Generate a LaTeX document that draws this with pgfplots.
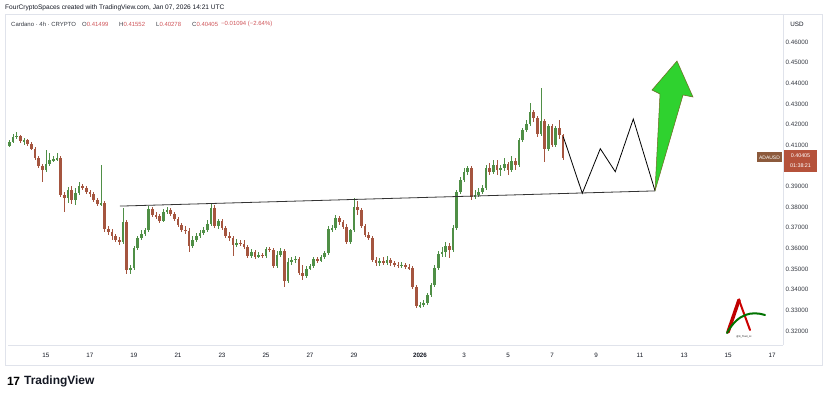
\documentclass[border=0pt]{standalone}
\usepackage{pgfplots}
\pgfplotsset{compat=1.18}
\usepackage{pgfplotstable}
\usepackage{fontspec}
\setmainfont{Liberation Sans}
\definecolor{upc}{HTML}{4F8F46}
\definecolor{dnc}{HTML}{A5553F}
\definecolor{txt}{HTML}{131722}
\definecolor{redv}{HTML}{D0555A}
\definecolor{frame}{HTML}{E0E3EB}
\definecolor{arrowg}{HTML}{2FD22F}
\definecolor{adab}{HTML}{8C5A3C}
\definecolor{pbox}{HTML}{B5523B}

\pgfplotstableread{
i o h l c
0 0.4096 0.4125 0.4091 0.4116
1 0.4116 0.4154 0.4111 0.4140
2 0.4140 0.4164 0.4130 0.4145
3 0.4145 0.4150 0.4111 0.4120
4 0.4120 0.4135 0.4101 0.4125
5 0.4125 0.4130 0.4096 0.4106
6 0.4106 0.4116 0.4077 0.4082
7 0.4082 0.4091 0.4028 0.4038
8 0.4038 0.4048 0.3990 0.3999
9 0.3999 0.4009 0.3922 0.3980
10 0.3980 0.4077 0.3970 0.4009
11 0.4009 0.4062 0.3999 0.4028
12 0.4028 0.4048 0.4019 0.4033
13 0.4033 0.4062 0.4024 0.4038
14 0.4038 0.4048 0.3849 0.3859
15 0.3859 0.3874 0.3777 0.3844
16 0.3844 0.3898 0.3820 0.3883
17 0.3883 0.3903 0.3815 0.3835
18 0.3835 0.3893 0.3811 0.3869
19 0.3869 0.3922 0.3859 0.3903
20 0.3903 0.3912 0.3883 0.3893
21 0.3893 0.3903 0.3864 0.3874
22 0.3874 0.3883 0.3849 0.3864
23 0.3864 0.3874 0.3825 0.3835
24 0.3835 0.3844 0.3806 0.3815
25 0.3815 0.4004 0.3806 0.3820
26 0.3820 0.3830 0.3680 0.3694
27 0.3694 0.3709 0.3665 0.3680
28 0.3680 0.3694 0.3641 0.3660
29 0.3660 0.3670 0.3631 0.3641
30 0.3641 0.3656 0.3617 0.3631
31 0.3631 0.3796 0.3622 0.3728
32 0.3728 0.3738 0.3476 0.3496
33 0.3496 0.3520 0.3476 0.3505
34 0.3505 0.3612 0.3496 0.3602
35 0.3602 0.3660 0.3593 0.3651
36 0.3651 0.3689 0.3641 0.3670
37 0.3670 0.3699 0.3660 0.3689
38 0.3689 0.3806 0.3680 0.3791
39 0.3791 0.3801 0.3752 0.3762
40 0.3762 0.3777 0.3743 0.3757
41 0.3757 0.3767 0.3723 0.3733
42 0.3733 0.3791 0.3728 0.3777
43 0.3777 0.3801 0.3767 0.3786
44 0.3786 0.3796 0.3757 0.3767
45 0.3767 0.3777 0.3733 0.3743
46 0.3743 0.3752 0.3704 0.3714
47 0.3714 0.3723 0.3680 0.3689
48 0.3689 0.3709 0.3670 0.3685
49 0.3685 0.3699 0.3583 0.3612
50 0.3612 0.3660 0.3602 0.3641
51 0.3641 0.3675 0.3631 0.3660
52 0.3660 0.3689 0.3651 0.3675
53 0.3675 0.3704 0.3665 0.3689
54 0.3689 0.3738 0.3680 0.3718
55 0.3718 0.3815 0.3709 0.3796
56 0.3796 0.3811 0.3699 0.3709
57 0.3709 0.3743 0.3694 0.3733
58 0.3733 0.3743 0.3689 0.3699
59 0.3699 0.3709 0.3651 0.3660
60 0.3660 0.3680 0.3636 0.3651
61 0.3651 0.3660 0.3564 0.3617
62 0.3617 0.3646 0.3607 0.3627
63 0.3627 0.3641 0.3612 0.3622
64 0.3622 0.3641 0.3597 0.3607
65 0.3607 0.3617 0.3554 0.3564
66 0.3564 0.3597 0.3554 0.3583
67 0.3583 0.3593 0.3549 0.3559
68 0.3559 0.3583 0.3554 0.3568
69 0.3568 0.3578 0.3554 0.3564
70 0.3564 0.3607 0.3554 0.3597
71 0.3597 0.3607 0.3583 0.3593
72 0.3593 0.3602 0.3505 0.3515
73 0.3515 0.3588 0.3505 0.3568
74 0.3568 0.3602 0.3559 0.3588
75 0.3588 0.3597 0.3413 0.3443
76 0.3443 0.3554 0.3433 0.3535
77 0.3535 0.3559 0.3520 0.3544
78 0.3544 0.3564 0.3530 0.3549
79 0.3549 0.3559 0.3472 0.3481
80 0.3481 0.3520 0.3447 0.3467
81 0.3467 0.3515 0.3457 0.3501
82 0.3501 0.3525 0.3496 0.3515
83 0.3515 0.3559 0.3505 0.3549
84 0.3549 0.3559 0.3530 0.3539
85 0.3539 0.3568 0.3535 0.3559
86 0.3559 0.3588 0.3549 0.3578
87 0.3578 0.3709 0.3568 0.3694
88 0.3694 0.3714 0.3680 0.3699
89 0.3699 0.3762 0.3689 0.3748
90 0.3748 0.3757 0.3714 0.3728
91 0.3728 0.3738 0.3694 0.3704
92 0.3704 0.3718 0.3622 0.3631
93 0.3631 0.3694 0.3622 0.3689
94 0.3689 0.3844 0.3680 0.3801
95 0.3801 0.3830 0.3762 0.3786
96 0.3786 0.3796 0.3699 0.3709
97 0.3709 0.3718 0.3656 0.3665
98 0.3665 0.3680 0.3641 0.3651
99 0.3651 0.3660 0.3535 0.3544
100 0.3544 0.3559 0.3515 0.3530
101 0.3530 0.3554 0.3515 0.3539
102 0.3539 0.3559 0.3520 0.3530
103 0.3530 0.3564 0.3520 0.3544
104 0.3544 0.3554 0.3515 0.3530
105 0.3530 0.3539 0.3510 0.3520
106 0.3520 0.3535 0.3505 0.3515
107 0.3515 0.3535 0.3505 0.3520
108 0.3520 0.3530 0.3501 0.3510
109 0.3510 0.3525 0.3496 0.3505
110 0.3505 0.3515 0.3404 0.3413
111 0.3413 0.3423 0.3312 0.3321
112 0.3321 0.3341 0.3312 0.3326
113 0.3326 0.3350 0.3317 0.3336
114 0.3336 0.3384 0.3326 0.3375
115 0.3375 0.3433 0.3365 0.3423
116 0.3423 0.3520 0.3413 0.3505
117 0.3505 0.3588 0.3496 0.3573
118 0.3573 0.3607 0.3559 0.3583
119 0.3583 0.3631 0.3559 0.3612
120 0.3612 0.3627 0.3554 0.3593
121 0.3593 0.3714 0.3583 0.3699
122 0.3699 0.3883 0.3689 0.3874
123 0.3874 0.3946 0.3864 0.3932
124 0.3932 0.3990 0.3922 0.3970
125 0.3970 0.3999 0.3956 0.3990
126 0.3990 0.3999 0.3835 0.3849
127 0.3849 0.3883 0.3840 0.3859
128 0.3859 0.3893 0.3849 0.3874
129 0.3874 0.3907 0.3864 0.3893
130 0.3893 0.4004 0.3883 0.3990
131 0.3990 0.4014 0.3956 0.3970
132 0.3970 0.4028 0.3961 0.4004
133 0.4004 0.4028 0.3956 0.3980
134 0.3980 0.4004 0.3951 0.3990
135 0.3990 0.4038 0.3975 0.4009
136 0.4009 0.4019 0.3956 0.3980
137 0.3980 0.4048 0.3970 0.4024
138 0.4024 0.4038 0.3980 0.4004
139 0.4004 0.4135 0.3995 0.4125
140 0.4125 0.4183 0.4116 0.4174
141 0.4174 0.4222 0.4164 0.4203
142 0.4203 0.4305 0.4193 0.4261
143 0.4261 0.4271 0.4213 0.4232
144 0.4232 0.4242 0.4140 0.4154
145 0.4154 0.4377 0.4145 0.4217
146 0.4217 0.4227 0.4019 0.4082
147 0.4082 0.4203 0.4072 0.4193
148 0.4193 0.4203 0.4091 0.4101
149 0.4101 0.4193 0.4091 0.4183
150 0.4183 0.4222 0.4130 0.4150
151 0.41499 0.41552 0.40278 0.40405
}\ohlc

\begin{document}
\begin{tikzpicture}
\fill[white] (0,0) rectangle (825bp,399bp);
\draw[frame, line width=0.6bp] (5bp,34bp) rectangle (822bp,385bp);
\begin{axis}[
  at={(8bp,54bp)}, anchor=south west,
  width=775bp, height=331bp, scale only axis,
  xmin=-0.36, xmax=211, ymin=0.31322, ymax=0.47357,
  axis line style={draw=frame, line width=0.6bp},
  axis x line*=bottom, axis y line*=right,
  major tick length=0pt,
  xtick={10,22,34,46,58,70,82,94,112,124,136,148,160,172,184,196,208},
  xticklabels={15,17,19,21,23,25,27,29,\textbf{2026},3,5,7,9,11,13,15,17},
  xticklabel style={font=\fontsize{6.3}{7}\selectfont, text=txt, inner sep=0pt, yshift=-8bp},
  ytick={0.32,0.33,0.34,0.35,0.36,0.37,0.38,0.39,0.41,0.42,0.43,0.44,0.45,0.46},
  yticklabel pos=right,
  scaled y ticks=false,
  yticklabel style={font=\fontsize{6.3}{7}\selectfont, text=txt!85, inner sep=0pt, anchor=west, xshift=2.5bp,
    /pgf/number format/fixed, /pgf/number format/fixed zerofill,
    /pgf/number format/precision=5, /pgf/number format/assume math mode=true},
]
% wicks
\addplot[draw=none, mark=none, restrict expr to domain={\thisrow{c}-\thisrow{o}}{0:1},
  error bars/.cd, y dir=both, y explicit, error mark=none,
  error bar style={line width=0.75bp, draw=upc, solid}]
  table[x=i, y expr={(\thisrow{h}+\thisrow{l})/2}, y error expr={(\thisrow{h}-\thisrow{l})/2}] {\ohlc};
\addplot[draw=none, mark=none, restrict expr to domain={\thisrow{c}-\thisrow{o}}{-1:-0.000001},
  error bars/.cd, y dir=both, y explicit, error mark=none,
  error bar style={line width=0.75bp, draw=dnc, solid}]
  table[x=i, y expr={(\thisrow{h}+\thisrow{l})/2}, y error expr={(\thisrow{h}-\thisrow{l})/2}] {\ohlc};
% bodies
\addplot[draw=none, mark=none, restrict expr to domain={\thisrow{c}-\thisrow{o}}{0:1},
  error bars/.cd, y dir=both, y explicit, error mark=none,
  error bar style={line width=2.6bp, draw=upc, solid}]
  table[x=i, y expr={(\thisrow{o}+\thisrow{c})/2}, y error expr={max(abs(\thisrow{c}-\thisrow{o})/2,0.00012)}] {\ohlc};
\addplot[draw=none, mark=none, restrict expr to domain={\thisrow{c}-\thisrow{o}}{-1:-0.000001},
  error bars/.cd, y dir=both, y explicit, error mark=none,
  error bar style={line width=2.6bp, draw=dnc, solid}]
  table[x=i, y expr={(\thisrow{o}+\thisrow{c})/2}, y error expr={max(abs(\thisrow{c}-\thisrow{o})/2,0.00012)}] {\ohlc};
% trend line
\addplot[draw=black!80, line width=0.8bp] coordinates {(30.18,0.38051) (176.09,0.38787)};
% projected zigzag
\addplot[draw=black, line width=0.8bp] coordinates {(151.08,0.41413) (156.26,0.38671) (161.17,0.40832) (165.26,0.39717) (170.17,0.42270) (176.09,0.38797)};
% arrow
\addplot[fill=arrowg, draw=olive!70!black, line width=0.5bp] coordinates {(176.09,0.38782) (183.73,0.43433) (186.45,0.43336) (182.09,0.45080) (175.27,0.43675) (177.45,0.43481) (176.09,0.38782)};
\end{axis}
% header
\node[anchor=west, inner sep=0pt, font=\fontsize{6.6}{8}\selectfont, text=txt] at (5bp,391.5bp) {FourCryptoSpaces created with TradingView.com, Jan 07, 2026 14:21 UTC};
\node[anchor=west, inner sep=0pt, font=\fontsize{6}{7}\selectfont, text=txt!85] at (11bp,375bp) {Cardano · 4h · CRYPTO};
\node[anchor=west, inner sep=0pt, font=\fontsize{6}{7}\selectfont, text=txt!85] at (82bp,375bp) {O\textcolor{redv}{0.41499}};
\node[anchor=west, inner sep=0pt, font=\fontsize{6}{7}\selectfont, text=txt!85] at (119bp,375bp) {H\textcolor{redv}{0.41552}};
\node[anchor=west, inner sep=0pt, font=\fontsize{6}{7}\selectfont, text=txt!85] at (156bp,375bp) {L\textcolor{redv}{0.40278}};
\node[anchor=west, inner sep=0pt, font=\fontsize{6}{7}\selectfont, text=txt!85] at (192bp,375bp) {C\textcolor{redv}{0.40405}};
\node[anchor=west, inner sep=0pt, font=\fontsize{6}{7}\selectfont, text=redv] at (221bp,375bp) {−0.01094 (−2.64\%)};
\node[inner sep=0pt, font=\fontsize{6.3}{7}\selectfont, text=txt] at (797bp,375bp) {USD};
% price labels
\node[fill=adab, text=white, font=\fontsize{5}{6}\selectfont, inner sep=0pt, minimum width=25bp, minimum height=10bp] at (769.5bp,241.5bp) {ADAUSD};
\fill[pbox] (784bp,227bp) rectangle (817bp,249bp);
\node[inner sep=0pt, text=white, font=\fontsize{5.4}{5.5}\selectfont] at (800.5bp,243bp) {0.40405};
\node[inner sep=0pt, text=white, font=\fontsize{5.4}{5.5}\selectfont] at (800.5bp,233bp) {01:38:21};
% watermark logo
\draw[red!75!black, line width=3.5bp, line cap=round] (728bp,67bp) -- (739bp,99bp);
\draw[red!80!black, line width=2bp, line cap=round] (739bp,99bp) -- (750bp,69bp);
\draw[green!45!black, line width=2bp, line cap=round] (727bp,66bp) .. controls (738bp,86bp) and (752bp,88bp) .. (765bp,84bp);
\node[inner sep=0pt, font=\fontsize{2.5}{3}\selectfont, text=black] at (744bp,62bp) {@K\_Trust\_Jc};
% TradingView logo
\node[anchor=west, inner sep=0pt, font=\fontsize{12}{13}\bfseries, text=black] at (7bp,18bp) {1\kern-0.5bp7};
\node[anchor=west, inner sep=0pt, font=\fontsize{12}{13}\bfseries, text=txt] at (24bp,18bp) {TradingView};
\pgfresetboundingbox
\path[use as bounding box] (0,0) rectangle (825bp,399bp);
\end{tikzpicture}
\end{document}
